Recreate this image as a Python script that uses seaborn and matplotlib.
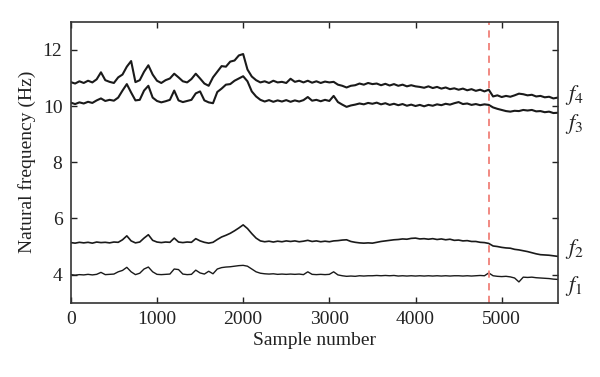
import matplotlib
matplotlib.use("Agg")
import matplotlib.pyplot as plt
import seaborn as sns
import pandas as pd

sample_number = list(range(0, 5651, 50))

f4 = [10.85, 10.80, 10.88, 10.82, 10.90, 10.84, 10.95, 11.20, 10.92, 10.86,
      10.82, 11.02, 11.12, 11.40, 11.60, 10.85, 10.92, 11.22, 11.45, 11.12,
      10.90, 10.82, 10.92, 10.98, 11.15, 11.02, 10.88, 10.84, 10.96, 11.15,
      10.98, 10.80, 10.72, 11.02, 11.22, 11.42, 11.40, 11.58, 11.62, 11.80,
      11.85, 11.30, 11.05, 10.92, 10.84, 10.88, 10.82, 10.90, 10.84, 10.86,
      10.82, 10.97, 10.86, 10.90, 10.84, 10.90, 10.83, 10.88, 10.82, 10.87,
      10.84, 10.86, 10.76, 10.72, 10.66, 10.72, 10.74, 10.80, 10.76, 10.82,
      10.78, 10.80, 10.74, 10.79, 10.73, 10.78, 10.72, 10.76, 10.70, 10.74,
      10.70, 10.68, 10.65, 10.70, 10.64, 10.68, 10.62, 10.66, 10.60, 10.63,
      10.58, 10.62, 10.56, 10.60, 10.54, 10.58, 10.52, 10.58, 10.34, 10.38,
      10.32, 10.36, 10.33, 10.38, 10.44, 10.42, 10.38, 10.40, 10.34, 10.36,
      10.31, 10.33, 10.27, 10.30]

f3 = [10.12, 10.07, 10.13, 10.09, 10.15, 10.11, 10.20, 10.27, 10.18, 10.22,
      10.19, 10.30, 10.55, 10.78, 10.48, 10.20, 10.22, 10.55, 10.72, 10.30,
      10.18, 10.13, 10.17, 10.22, 10.55, 10.20, 10.14, 10.18, 10.22, 10.45,
      10.52, 10.20, 10.13, 10.10, 10.50, 10.62, 10.76, 10.78, 10.90, 10.98,
      11.06, 10.88, 10.52, 10.34, 10.22, 10.16, 10.21, 10.15, 10.20, 10.16,
      10.21, 10.15, 10.20, 10.16, 10.21, 10.32, 10.19, 10.22, 10.17, 10.22,
      10.18, 10.36, 10.14, 10.05, 9.97, 10.02, 10.05, 10.09, 10.06, 10.11,
      10.08, 10.12, 10.06, 10.10, 10.04, 10.08, 10.03, 10.07, 10.01, 10.05,
      10.00, 10.04, 9.99, 10.04, 10.01, 10.06, 10.03, 10.08, 10.05, 10.10,
      10.14, 10.07, 10.09, 10.04, 10.07, 10.03, 10.06, 10.04, 9.95, 9.90,
      9.86, 9.82, 9.80, 9.83, 9.82, 9.86, 9.84, 9.86, 9.81, 9.82,
      9.78, 9.80, 9.75, 9.76]

f2 = [5.14, 5.12, 5.15, 5.13, 5.15, 5.12, 5.16, 5.14, 5.15, 5.13,
      5.16, 5.15, 5.24, 5.38, 5.20, 5.13, 5.16, 5.30, 5.42, 5.22,
      5.16, 5.14, 5.16, 5.15, 5.30, 5.16, 5.14, 5.16, 5.15, 5.28,
      5.20, 5.15, 5.12, 5.15, 5.25, 5.34, 5.40, 5.47, 5.56, 5.66,
      5.77, 5.64, 5.46, 5.30, 5.20, 5.17, 5.19, 5.16, 5.19, 5.17,
      5.20, 5.18, 5.20, 5.17, 5.19, 5.22, 5.18, 5.20, 5.17, 5.19,
      5.17, 5.20, 5.21, 5.23, 5.24, 5.18, 5.15, 5.13, 5.12, 5.13,
      5.12, 5.15, 5.18, 5.20, 5.22, 5.24, 5.25, 5.27, 5.26, 5.29,
      5.30, 5.27, 5.28, 5.26, 5.28, 5.25, 5.27, 5.24, 5.26, 5.22,
      5.23, 5.20, 5.21, 5.18, 5.18, 5.15, 5.14, 5.11, 5.02, 5.00,
      4.97, 4.95, 4.94, 4.90, 4.88, 4.85, 4.82, 4.78, 4.74, 4.71,
      4.70, 4.69, 4.67, 4.65]

f1 = [4.00, 3.98, 4.00, 3.99, 4.01, 3.99, 4.01, 4.08, 4.00, 4.01,
      4.02, 4.10, 4.15, 4.26, 4.10, 4.00, 4.05, 4.20, 4.27, 4.10,
      4.01, 4.00, 4.01, 4.02, 4.20, 4.18, 4.02, 4.00, 4.01, 4.16,
      4.06, 4.02, 4.12, 4.03, 4.20, 4.25, 4.27, 4.28, 4.30, 4.32,
      4.33, 4.30, 4.20, 4.10, 4.05, 4.03, 4.02, 4.03, 4.01, 4.02,
      4.01, 4.02, 4.01, 4.02, 4.00, 4.10, 4.01, 4.00, 4.01, 4.00,
      4.01, 4.10, 3.99, 3.96, 3.94, 3.95, 3.94, 3.96, 3.95, 3.96,
      3.96, 3.97, 3.96, 3.97, 3.96, 3.97, 3.95, 3.96, 3.95, 3.96,
      3.95, 3.96, 3.95, 3.96, 3.95, 3.96, 3.95, 3.96, 3.95, 3.96,
      3.96, 3.95, 3.96, 3.95, 3.96, 3.97, 3.96, 4.06, 3.96, 3.94,
      3.93, 3.94, 3.92, 3.88, 3.74, 3.91, 3.90, 3.91, 3.89, 3.88,
      3.87, 3.86, 3.84, 3.83]

series_labels = [r"$f_4$", r"$f_3$", r"$f_2$", r"$f_1$"]
label_y = [10.4, 9.35, 4.9, 3.6]
event_sample = 4850

x_ticks = [0, 1000, 2000, 3000, 4000, 5000]
y_ticks = [4, 6, 8, 10, 12]

sns.set_theme(style="ticks")
plt.rcParams["font.family"] = ["Liberation Serif", "DejaVu Serif"]
plt.rcParams["mathtext.fontset"] = "stix"

fig = plt.figure(figsize=(6.0, 3.77), dpi=100)
ax = fig.add_axes([0.118, 0.197, 0.8115, 0.7454])

df = pd.DataFrame({"sample": sample_number, "f4": f4, "f3": f3, "f2": f2, "f1": f1})
for name, lw in [("f4", 1.5), ("f3", 1.5), ("f2", 1.2), ("f1", 1.0)]:
    sns.lineplot(data=df, x="sample", y=name, ax=ax, color="#1a1a1a", lw=lw)

ax.axvline(event_sample, color="#f08078", ls=(0, (4, 3)), lw=1.3)

ax.set_xlim(0, 5650)
ax.set_ylim(3, 13)
ax.set_xticks(x_ticks)
ax.set_yticks(y_ticks)
ax.tick_params(direction="in", top=True, right=True, length=4, width=1,
               labelsize=14, colors="#222222", pad=6)
for s in ax.spines.values():
    s.set_linewidth(1.2)
    s.set_color("#333333")
ax.set_xlabel("Sample number", fontsize=14, color="#222222", labelpad=3)
ax.set_ylabel("Natural frequency (Hz)", fontsize=14, color="#222222", labelpad=5)

for lab, yv in zip(series_labels, label_y):
    ax.text(1.015, yv, lab, transform=ax.get_yaxis_transform(), fontsize=16,
            va="center", ha="left", color="#222222")

fig.savefig("out.png", dpi=100)
